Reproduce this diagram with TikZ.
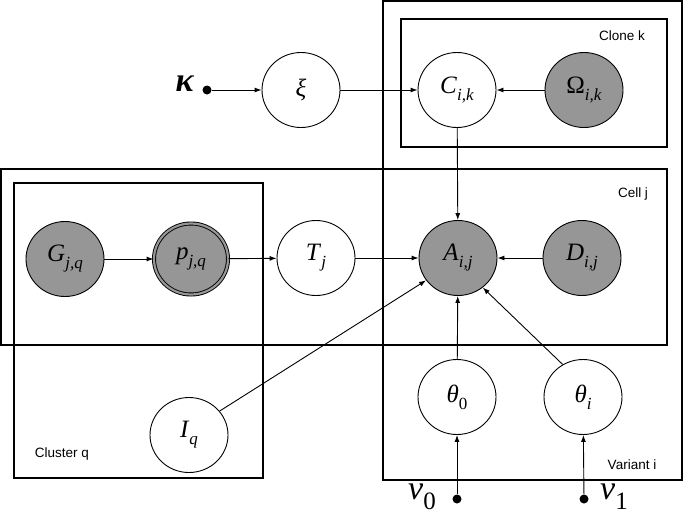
\documentclass[tikz,border=0pt]{standalone}
\usepackage{fontspec}
\newfontfamily\labelfont{Liberation Sans}
\newfontfamily\symfont{Liberation Serif}
\newcommand\lbl[2]{\textit{#1}\raisebox{-0.28em}{\fontsize{17}{19}\selectfont #2}}
\usetikzlibrary{shapes.geometric,arrows.meta}
\definecolor{nodegray}{RGB}{150,150,150}
\tikzset{
  var/.style={ellipse, draw, line width=0.9pt, minimum width=78pt, minimum height=75pt, inner sep=0pt, font=\symfont\fontsize{25}{29}\selectfont},
  obs/.style={var, fill=nodegray},
  plate/.style={draw, line width=1.1pt},
  platelabel/.style={font=\labelfont\fontsize{13.5}{16}\selectfont, inner sep=0pt},
  arr/.style={line width=0.9pt, -{Latex[length=7pt,width=5pt]}},
  hyper/.style={circle, fill=black, inner sep=0pt, minimum size=9pt},
  big/.style={font=\symfont\fontsize{34}{38}\selectfont, inner sep=0pt}
}
\begin{document}
\begin{tikzpicture}[x=1pt,y=-1pt]
\useasboundingbox (0,0) rectangle (685,517);
% plates
\draw[plate] (383,1) rectangle (682,480);
\draw[plate] (401,19) rectangle (667,147);
\draw[plate] (1,169) rectangle (667,345);
\draw[plate] (14,183) rectangle (263,478);
\node[platelabel] (lclone) at (622,36) {Clone k};
\node[platelabel] (lcell) at (633,194) {Cell j};
\node[platelabel] (lcluster) at (62,454) {Cluster q};
\node[platelabel] (lvariant) at (632,465) {Variant i};
% nodes
\node[big] (kappa) at (185,84) {\textbf{\textit{κ}}};
\node[hyper] (kdot) at (207,90) {};
\node[var] (xi) at (301,90) {\textit{ξ}};
\node[var] (C) at (457,90) {\lbl{C}{\textit{i,k}}};
\node[obs] (Om) at (584,90) {\lbl{\textup{Ω}}{\textit{i,k}}};
\node[obs] (G) at (65,259) {\lbl{G}{\textit{j,q}}};
\node[obs, double=nodegray, double distance=2.2pt, minimum width=74pt, minimum height=71pt] (p) at (191,259) {\lbl{p}{\textit{j,q}}};
\node[var] (T) at (316,258) {\lbl{T}{\textit{j}}};
\node[obs] (A) at (458,258) {\lbl{A}{\textit{i,j}}};
\node[obs] (D) at (582,258) {\lbl{D}{\textit{i,j}}};
\node[var] (th0) at (457,397) {\lbl{θ}{0}};
\node[var] (thi) at (583,397) {\lbl{θ}{\textit{i}}};
\node[var] (I) at (189,435) {\lbl{I}{\textit{q}}};
\node[big] (v0) at (422,497) {\textit{v}\raisebox{-0.3em}{\fontsize{25}{28}\selectfont 0}};
\node[hyper] (v0dot) at (457,499) {};
\node[hyper] (v1dot) at (584,499) {};
\node[big] (v1) at (614,497) {\textit{v}\raisebox{-0.3em}{\fontsize{25}{28}\selectfont 1}};
% edges
\draw[arr] (kdot) -- (xi);
\draw[arr] (xi) -- (C);
\draw[arr] (Om) -- (C);
\draw[arr] (C) -- (A);
\draw[arr] (G) -- (p);
\draw[arr] (p) -- (T);
\draw[arr] (T) -- (A);
\draw[arr] (D) -- (A);
\draw[arr] (th0) -- (A);
\draw[arr] (thi.122) -- (A.-50);
\draw[arr] (I.38) -- (A.215);
\draw[arr] (v0dot) -- (th0);
\draw[arr] (v1dot) -- (thi);
\end{tikzpicture}
\end{document}
